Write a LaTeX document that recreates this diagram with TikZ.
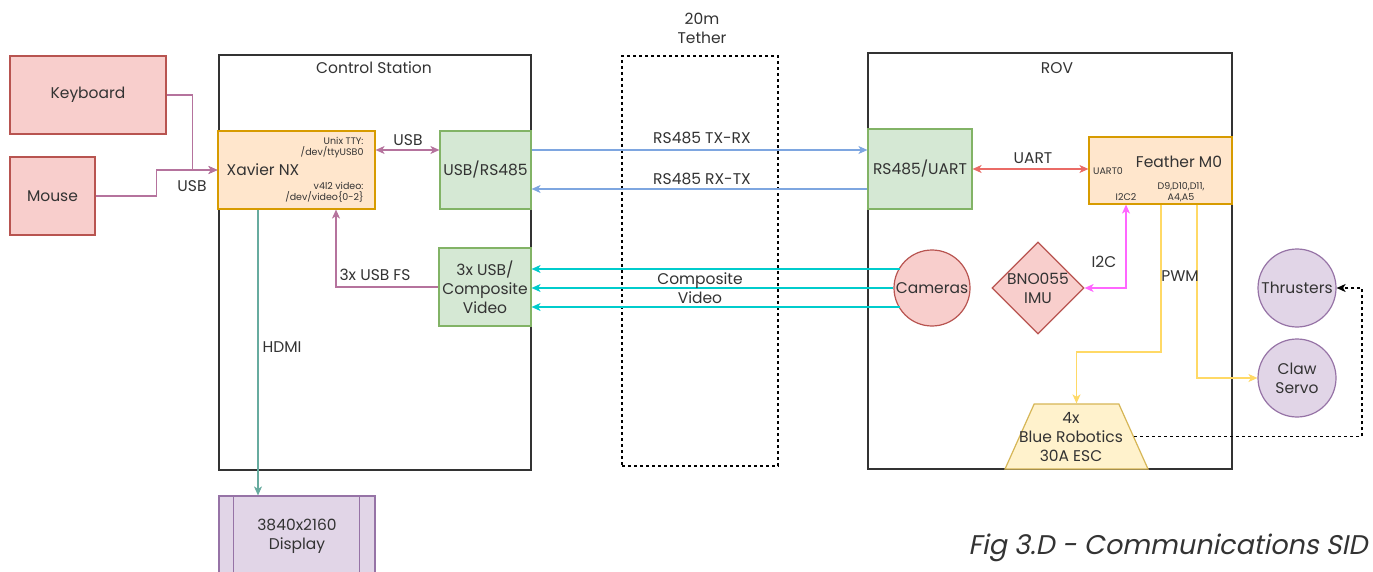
\documentclass[tikz,border=0pt]{standalone}
\usepackage{fontspec}
\setmainfont{Poppins}
\newfontfamily\capfont{Poppins}[FakeSlant=0.2]
\usetikzlibrary{arrows.meta,shapes.geometric,calc}
\definecolor{redF}{HTML}{F8CECC}\definecolor{redS}{HTML}{B85450}
\definecolor{orgF}{HTML}{FFE6CC}\definecolor{orgS}{HTML}{D79B00}
\definecolor{grnF}{HTML}{D5E8D4}\definecolor{grnS}{HTML}{82B366}
\definecolor{purF}{HTML}{E1D5E7}\definecolor{purS}{HTML}{9673A6}
\definecolor{yelF}{HTML}{FFF2CC}\definecolor{yelS}{HTML}{D6B656}
\definecolor{cUSB}{HTML}{B5739D}\definecolor{cHDMI}{HTML}{67AB9F}
\definecolor{cRS}{HTML}{7EA6E0}\definecolor{cUART}{HTML}{EA6B66}
\definecolor{cCOMP}{HTML}{00CCCC}\definecolor{cI2C}{HTML}{FF66FF}
\definecolor{cPWM}{HTML}{FFD966}\definecolor{txt}{HTML}{333333}
\definecolor{frame}{HTML}{333333}
\begin{document}
\begin{tikzpicture}[x=1pt,y=-1pt,
  font=\fontsize{15.5}{19}\selectfont, text=txt,
  box/.style={draw, line width=1.2pt, inner sep=0pt, align=center},
  redbox/.style={box, draw=redS, fill=redF},
  orgbox/.style={box, draw=orgS, fill=orgF},
  grnbox/.style={box, draw=grnS, fill=grnF},
  purbox/.style={box, draw=purS, fill=purF},
  container/.style={draw=frame, line width=1.4pt, inner sep=0pt},
  small/.style={font=\fontsize{9.5}{11}\selectfont},
  conn/.style={line width=1.2pt},
  tip/.style={-{Stealth[length=9pt,width=8pt,inset=2.5pt]}},
  both/.style={{Stealth[length=9pt,width=8pt,inset=2.5pt]}-{Stealth[length=9pt,width=8pt,inset=2.5pt]}},
  dotline/.style={line width=1.3pt, dash pattern=on 3pt off 3pt}]
\useasboundingbox (0,0) rectangle (1373,572);
\fill[white] (0,0) rectangle (1373,572);

% containers
\node[container, minimum width=312pt, minimum height=415pt] (cs) at (375,262.5) {};
\node (cslbl) at (374,68) {Control Station};
\node[container, draw=black, dotline, minimum width=156pt, minimum height=410pt] (teth) at (700,261) {};
\node[align=center] (tethlbl) at (702,28) {20m\\Tether};
\node[container, minimum width=364pt, minimum height=416pt] (rov) at (1050,261) {};
\node (rovlbl) at (1057,68) {ROV};

% left devices
\node[redbox, minimum width=156pt, minimum height=78pt] (kb) at (88,95) {Keyboard};
\node[redbox, minimum width=85pt, minimum height=78pt] (mouse) at (52.5,196) {Mouse};

% control station
\node[orgbox, minimum width=157pt, minimum height=78pt] (xav) at (296.5,170) {};
\node (xavlbl) at (263,170) {Xavier NX};
\node[small, anchor=east, align=right] (tty) at (367,147.5) {Unix TTY:\\/dev/ttyUSB0};
\node[small, anchor=east, align=right] (v4l) at (367,192.5) {v4l2 video:\\/dev/video\{0-2\}};
\node[grnbox, minimum width=91pt, minimum height=78pt] (usbrs) at (485.5,170) {USB/RS485};
\node[grnbox, minimum width=92pt, minimum height=78pt] (comp) at (485,287) {3x USB/\\Composite\\Video};
\node[purbox, minimum width=156pt, minimum height=80pt] (disp) at (297,536) {3840x2160\\Display};
\draw[purS, line width=1.2pt] ([xshift=15pt]disp.north west) -- ([xshift=15pt]disp.south west)
  ([xshift=-16pt]disp.north east) -- ([xshift=-16pt]disp.south east);

% ROV
\node[grnbox, minimum width=104pt, minimum height=80pt] (rsu) at (920,169) {RS485/UART};
\node[orgbox, minimum width=143pt, minimum height=67pt] (fea) at (1160.5,170.5) {};
\node (fealbl) at (1179,162) {Feather M0};
\node[small] (uart0) at (1108,171) {UART0};
\node[small] (i2c2) at (1126,197) {I2C2};
\node[small, align=center] (dpins) at (1181,192) {D9,D10,D11,\\A4,A5};
\node[circle, draw=redS, fill=redF, line width=1.2pt, minimum size=76pt, inner sep=0pt,
  label={center:Cameras}] (cam) at (932,288) {};
\coordinate (camA) at ($(cam.center)+(-32.3,-19)$);
\coordinate (camB) at ($(cam.center)+(-32.3,19)$);
\node[diamond, aspect=1, draw=redS, fill=redF, line width=1.2pt, minimum size=92pt, inner sep=0pt] (imu) at (1038,288) {};
\node[align=center] (imulbl) at (1038,288) {BNO055\\IMU};
\node[trapezium, trapezium stretches=true, trapezium angle=71, draw=yelS, fill=yelF, line width=1.2pt,
  minimum width=143pt, minimum height=65pt, inner sep=2pt] (esc) at (1076.5,436.5) {};
\node[align=center] (esclbl) at (1071,437) {4x\\Blue Robotics\\30A ESC};
\node[circle, draw=purS, fill=purF, line width=1.2pt, minimum size=78pt, inner sep=0pt,
  label={center:Thrusters}] (thr) at (1297,288) {};
\node[circle, draw=purS, fill=purF, line width=1.2pt, minimum size=78pt, inner sep=0pt,
  label={[align=center]center:Claw\\Servo}] (claw) at (1297,378) {};

% connectors
\draw[conn, cUSB, tip] (kb.east) -- ++(26,0) |- (xav.west);
\draw[conn, cUSB, tip] (mouse.east) -- ++(61,0) |- (xav.west);
\node (usbkb) at (192,186) {USB};
\draw[conn, cUSB, both] (xav.east |- 0,150) -- (usbrs.west |- 0,150);
\node (usblbl) at (408,140) {USB};
\draw[conn, cUSB, tip] (comp.west) -| (xav.south -| 336,0);
\node (fslbl) at (375,275) {3x USB FS};
\draw[conn, cHDMI, tip] (xav.south -| 258,0) -- (disp.north -| 258,0);
\node (hdmilbl) at (282,347) {HDMI};

\draw[conn, cRS, tip] (usbrs.east |- 0,150) -- (rsu.west |- 0,150);
\node (txrx) at (702,138) {RS485 TX-RX};
\draw[conn, cRS, tip] (rsu.west |- 0,189) -- (usbrs.east |- 0,189);
\node (rxtx) at (702,179) {RS485 RX-TX};

\draw[conn, cCOMP, tip] (camA) -- (comp.east |- camA);
\draw[conn, cCOMP, tip] (cam.west) -- (comp.east |- cam.west);
\draw[conn, cCOMP, tip] (camB) -- (comp.east |- camB);
\node[align=center] (complbl) at (700,288) {Composite\\Video};

\draw[conn, cUART, both] (rsu.east) -- (rsu.east -| fea.west);
\node (uartlbl) at (1033,158) {UART};
\draw[conn, cI2C, both] (fea.south -| 1126,0) |- (imu.east);
\node (i2clbl) at (1104,262) {I2C};
\draw[conn, cPWM, tip] (fea.south -| 1161,0) -- (1161,352) -| (esc.north);
\draw[conn, cPWM, tip] (fea.south -| 1197,0) |- (claw.west);
\node (pwmlbl) at (1180,276) {PWM};
\draw[dotline, black, tip] (esc.east) -- (esc.east -| 1362,0) |- (thr.east);

\node[anchor=east, font=\capfont\fontsize{27}{32}\selectfont] (cap) at (1371,548) {Fig 3.D - Communications SID};
\end{tikzpicture}
\end{document}
